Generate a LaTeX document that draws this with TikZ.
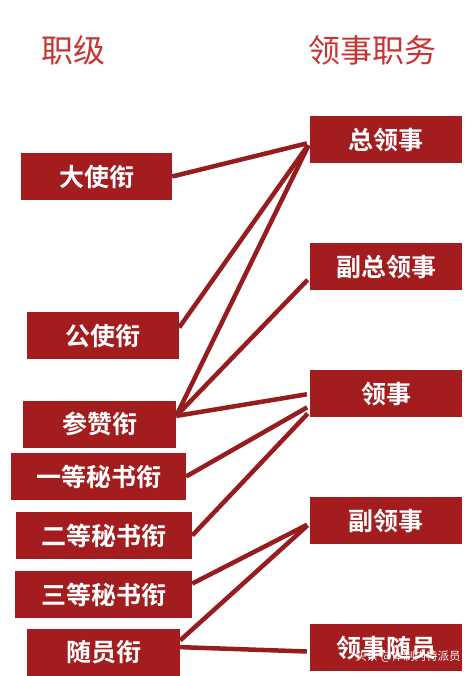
\documentclass[tikz,border=0pt]{standalone}
\usepackage{fontspec}
\setmainfont{Noto Sans CJK SC}[BoldFont={Noto Sans CJK SC Bold}]
\usepackage{tikz}
\usetikzlibrary{positioning}

\definecolor{boxred}{RGB}{163,28,30}
\definecolor{linkred}{RGB}{150,28,30}
\definecolor{titlered}{RGB}{200,52,50}

\begin{document}
\begin{tikzpicture}[x=1pt, y=-1pt,
    rank/.style={fill=boxred, text=white, font=\bfseries\fontsize{25}{25}\selectfont,
        minimum height=47pt, inner sep=2pt},
    post/.style={rank, minimum width=152pt},
    heading/.style={text=titlered, font=\fontsize{32}{32}\selectfont},
    link/.style={draw=linkred, line width=4.5pt, shorten >=3pt}]
    \useasboundingbox (0,0) rectangle (475,676);

    % Headings
    \node[heading] (zhiji) at (73,50) {职级};
    \node[heading] (zhiwu) at (372,50) {领事职务};

    % Ranks
    \node[rank, minimum width=151pt] (dashi) at (96.5,176.5) {大使衔};
    \node[rank, minimum width=152pt] (gongshi) at (103,335.5) {公使衔};
    \node[rank, minimum width=153pt] (canzan) at (99.5,424) {参赞衔};
    \node[rank, minimum width=175pt] (yideng) at (98.5,476.5) {一等秘书衔};
    \node[rank, minimum width=176pt] (erdeng) at (104,535.5) {二等秘书衔};
    \node[rank, minimum width=177pt] (sandeng) at (103.5,594.5) {三等秘书衔};
    \node[rank, minimum width=153pt] (suiyuan) at (103.5,652.5) {随员衔};

    % Posts
    \node[post] (zong) at (386,140) {总领事};
    \node[post, below=79.5pt of zong] (fuzong) {副总领事};
    \node[post, below=79.5pt of fuzong] (lingshi) {领事};
    \node[post, below=79.5pt of lingshi] (fuling) {副领事};
    \node[post, below=79.5pt of fuling] (suiling) {领事随员};

    % Edges
    \foreach \a/\b in {dashi.east/zong.182, gongshi.6/zong.182, canzan.6/zong.182,
        canzan.6/fuzong.188, canzan.6/lingshi.west, yideng.east/lingshi.189,
        erdeng.east/lingshi.193, sandeng.7/fuling.182, suiyuan.9/fuling.182,
        suiyuan.4/suiling.183}
      \draw[link] (\a) -- (\b);

    % Watermark
    \node[text=white, font=\fontsize{11.5}{12}\selectfont] (mark) at (408,657) {头条 @体制内特派员};
\end{tikzpicture}
\end{document}
